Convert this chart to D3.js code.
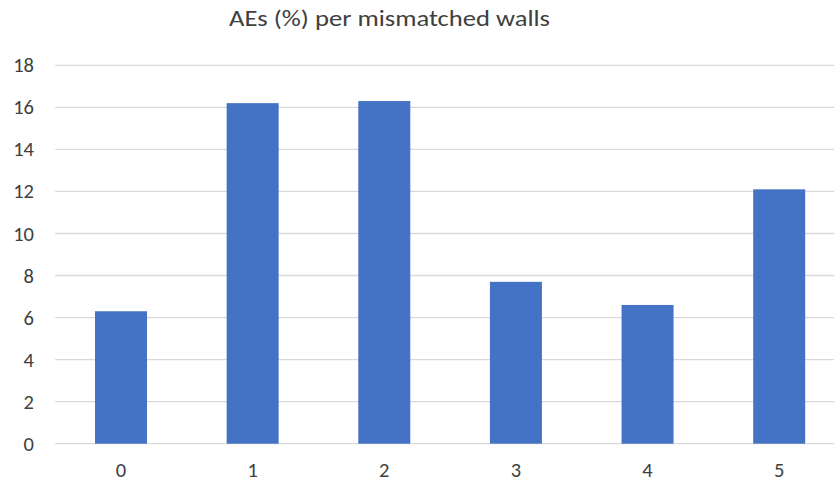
<!DOCTYPE html>
<html>
<head>
<meta charset="utf-8">
<script src="https://cdn.jsdelivr.net/npm/d3@7"></script>
<style>
  html, body { margin: 0; padding: 0; background: #fff; }
  svg { display: block; font-family: Carlito, "Open Sans", "Noto Sans", sans-serif; }
</style>
</head>
<body>
<svg id="chart" width="834" height="482"></svg>
<script>
// Adverse events (%) by number of mismatched walls
const categories = ["0", "1", "2", "3", "4", "5"];
const values = [6.3, 16.2, 16.3, 7.7, 6.6, 12.1];
const yTicks = [0, 2, 4, 6, 8, 10, 12, 14, 16, 18];
const title = "AEs (%) per mismatched walls";

const svg = d3.select("#chart");
const plot = { left: 55.2, right: 845, top: 65.3, bottom: 443.7 };
const fontStack = "Carlito, 'Open Sans', 'Noto Sans', sans-serif";
const textColor = "#404040";

const x = d3.scaleBand()
  .domain(categories)
  .range([plot.left, plot.right])
  .paddingInner(0.605)
  .paddingOuter(0.3025);

const y = d3.scaleLinear()
  .domain([0, 18])
  .range([plot.bottom, plot.top]);

// Horizontal gridlines
svg.append("g")
  .selectAll("line")
  .data(yTicks)
  .join("line")
  .attr("x1", plot.left)
  .attr("x2", 834)
  .attr("y1", d => y(d))
  .attr("y2", d => y(d))
  .attr("stroke", "#d9d9d9")
  .attr("stroke-width", 1.3);

// Bars
svg.append("g")
  .selectAll("rect")
  .data(values)
  .join("rect")
  .attr("x", (d, i) => x(categories[i]))
  .attr("width", x.bandwidth())
  .attr("y", d => y(d))
  .attr("height", d => y(0) - y(d))
  .attr("fill", "#4472c4");

// Y axis labels
const yAxis = d3.axisLeft(y).tickValues(yTicks).tickSize(0).tickPadding(0);
const gy = svg.append("g")
  .attr("transform", "translate(34,0)")
  .call(yAxis);
gy.select(".domain").remove();
gy.selectAll("text")
  .attr("font-size", 20.5)
  .attr("fill", textColor)
  .attr("font-family", fontStack);

// X axis labels
const xAxis = d3.axisBottom(x).tickSize(0).tickPadding(0);
const gx = svg.append("g")
  .attr("transform", "translate(0,477)")
  .call(xAxis);
gx.select(".domain").remove();
gx.selectAll("text")
  .attr("y", 0)
  .attr("dy", null)
  .attr("font-size", 20.5)
  .attr("fill", textColor)
  .attr("font-family", fontStack);

// Title
svg.append("text")
  .attr("x", 389.5)
  .attr("y", 26)
  .attr("text-anchor", "middle")
  .attr("font-size", 22)
  .attr("textLength", 321)
  .attr("lengthAdjust", "spacingAndGlyphs")
  .attr("fill", textColor)
  .text(title);
</script>
</body>
</html>
